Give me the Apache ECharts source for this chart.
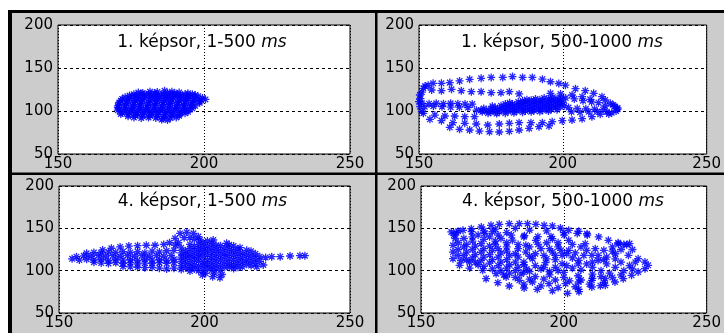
<!DOCTYPE html>
<html>
<head>
<meta charset="utf-8">
<script src="https://cdn.jsdelivr.net/npm/echarts@6/dist/echarts.min.js"></script>
<style>
  html, body { margin: 0; padding: 0; background: #fff; }
  #chart { width: 724px; height: 333px; }
</style>
</head>
<body>
<div id="chart"></div>
<script>
// tengely-feliratok
const xTicks = [150, 200, 250];
const yTicks = [50, 100, 150, 200];
const titles = ['1. képsor, 1-500 {i|ms}', '1. képsor, 500-1000 {i|ms}', '4. képsor, 1-500 {i|ms}', '4. képsor, 500-1000 {i|ms}'];

// 1. képsor, 1-500 ms
const pts1 = [
  [179,121],[181.5,122.5],[184,122],[186.5,123.5],[189,122.5],[191.5,121.5],
  [177.5,121.5],[183,121],[187.5,121],[190,120.5],[194.5,120.5],
  [176,119.5],[178.5,120],[181,120],[183.5,119],[186,120],[188.5,119.5],[191,119],[193.5,119.5],[196,119.5],
  [174.5,118],[177,118],[179.5,118.5],[182,118],[184.5,118.5],[187,118],[189.5,118.5],[192,118],[194.5,118],[197,118.5],
  [173,116],[175.5,116.5],[178,116],[180.5,117],[183,116],[185.5,116.5],[188,116],[190.5,117],[193,116],[195.5,116.5],[198,117],
  [172,114],[174.5,114.5],[177,114],[179.5,115],[182,114],[184.5,114.5],[187,114],[189.5,115],[192,114],[194.5,114.5],[197,114],[199.5,115],
  [171.5,112],[174,112.5],[176.5,112],[179,113],[181.5,112],[184,112.5],[186.5,112],[189,113],[191.5,112],[194,112.5],[196.5,112],[199,113],[200.5,113.5],
  [171,110],[173.5,110.5],[176,110],[178.5,111],[181,110],[183.5,110.5],[186,110],[188.5,111],[191,110],[193.5,110.5],[196,110],[198.5,111],
  [171,108],[173.5,108.5],[176,108],[178.5,109],[181,108],[183.5,108.5],[186,108],[188.5,109],[191,108],[193.5,108.5],[196,108],[198.5,109.5],
  [170.5,106],[173,106.5],[175.5,106],[178,107],[180.5,106],[183,106.5],[185.5,106],[188,107],[190.5,106],[193,106.5],[195.5,106.5],
  [170.5,104],[173,104.5],[175.5,104],[178,105],[180.5,104],[183,104.5],[185.5,104],[188,105],[190.5,104],[193,104.5],[195.5,104.5],[197,106],
  [171,102.5],[173.5,102],[176,102.5],[178.5,102],[181,102.5],[183.5,102],[186,102.5],[188.5,102],[191,102.5],[193.5,102.5],[196,103],
  [170.5,101],[172.5,100],[175,100.5],[177.5,100],[180,101],[182.5,100],[185,100.5],[187.5,100],[190,101],[192.5,100],[194.5,101],
  [172,98],[174.5,98.5],[177,98],[179.5,98.5],[182,98],[184.5,98.5],[187,98],[189.5,98.5],[192,98.5],[194.5,99],
  [171.5,96.5],[174,96],[176.5,96.5],[179,96],[181.5,96.5],[184,96],[186.5,96],[189,96.5],[191.5,96],[193.5,97.5],
  [174,94],[176.5,94.5],[179,94],[181.5,94.5],[184,94],[186.5,94],[189,94.5],[191.5,94.5],
  [176,92.5],[178.5,92],[181,92.5],[183.5,92],[186,91.5],[188.5,92],[190.5,92.5],
  [185.5,90],[187.5,89.5]
];

// 1. képsor, 500-1000 ms
const pts2 = [
  [152.1,129],[154.9,132.2],[157.8,132.2],[160.7,133],[164.1,135],[167.6,136.8],[171.6,138],[175.1,139],[179.1,139],[182.5,140],
  [186,139],[189.4,139],[192.9,137],[195.7,134],[198.6,132],[200.9,130],[204.4,126],[207.8,123.6],[210.7,120.5],[213.6,116.7],[214.7,112.8],
  [216.5,109],[218,105.5],[219,102],
  [150.3,118.6],[150,110.9],[150.4,105],[151,99.3],[151.5,126.4],[153.2,130],[151,122],[150.5,114.5],
  [154.4,124.4],[157.8,123.6],[161.3,125.2],[164.7,123.6],[168.2,122.5],[171.6,122.5],[175.1,121.3],[178.5,121.3],[181.4,122.5],[184.8,119.8],
  [195.7,120.5],[199.2,119.8],[203.2,118.6],[206.7,116.7],[209.5,113.6],[212.4,109.7],[214.7,105.8],
  [151,109],[153.5,108.5],[156,109],[158.5,108.5],[161,109],[163.5,108.5],[166,108],[168.5,108],
  [152,105],[155,105.5],[158,105],[161,104.5],[164,104.5],[167,104],
  [151.5,97.3],[155.5,95.3],[159,94.2],[162.4,94.2],[165.9,93.4],[169.3,93.4],
  [153.8,90.3],[157.8,88.8],[161.8,86.4],[165.9,85.7],[169.9,84.9],[173.9,83.7],[177.9,84.9],[181.4,85.7],[184.8,86.4],
  [188.9,86.4],[192.9,86.4],[196.3,87.6],[199.8,88.8],[203.2,89.5],[206.7,91.1],[210.1,93.4],[213,96.1],[215.3,99.2],
  [160.7,81],[164.1,78.7],[167.6,77.9],[171,76.7],[174.5,76],[177.9,75.6],[181.4,76.4],[184.8,77.9],[188.3,79.8],[191.7,81.8],[195.2,82.6],
  [217,98],[218.5,100],[216,96.5],[219,103.5],[217.5,107],
  [202,104],[205,103],[208,102.5],[211,102],[214,101.5],[203,99],[206,98.5],[209,99],[212,99.5],
  [201,115],[204,114],[207,112],[210,110.5],
  [170,101],[172,99],[172.5,103],[175,98.5],[175,102],[175.5,105.5],[178,99],[178,102.5],[178.5,106],
  [181,99.5],[181,103],[181,106.5],[181.5,109.5],[184,100],[184,103.5],[184,107],[184.5,110.5],
  [187,100],[187,103.5],[187,107],[187,110.5],[187.5,113],[190,100.5],[190,104],[190,107.5],[190,111],[190.5,114],
  [193,101],[193,104.5],[193,108],[193,111.5],[193.5,115],[196,102],[196,105.5],[196,109],[196,112.5],[196.5,116],
  [199,105],[199,108.5],[199,112],[199.5,115],
  [171.5,101],[173.5,100.5],[176.5,100],[179.5,101],[182.5,101.5],[185.5,102],[188.5,102],[191.5,102.5],[194.5,103.5],[197.5,104.5],
  [176.5,104],[179.5,104.5],[182.5,105],[185.5,105.5],[188.5,106],[191.5,106],[194.5,107],[197.5,107.5],
  [180,108],[182.5,108],[185.5,109],[188.5,109],[191.5,109.5],[194.5,110],[197.5,111],
  [186,112],[189,112.5],[192,113],[195,114],[198,114],[200,110],[200.5,106],
  [174,97.5],[177,97],[180,97.5],[183,98],[186,98.5],[189,99],[192,99.5],[195,100],[198,101.5]
];

// 4. képsor, 1-500 ms
const pts3 = [
  [165,124.5],[168,126.5],[171,128],[174,129],[177,129.5],[180,130],[183,130],[186,131],[188,133],
  [159.5,120.5],[162,121.5],[164.5,121],[167,122],[169.5,121.5],[172,122.5],[174.5,121.5],[177,122.5],[179.5,121],[182,123],[184.5,122],[187,123.5],[189.5,124],
  [156,116.5],[158.5,117.5],[161,117],[163.5,118],[166,117],[168.5,118],[171,117],[173.5,118],[176,117],[178.5,118],[181,117],[183.5,118],[186,117],[188.5,118],
  [154.5,114],[157,112.5],[159.5,113.5],[162,112.5],[164.5,113.5],[167,112],[169.5,113.5],[172,112.5],[174.5,113],[177,112],[179.5,113.5],[182,112.5],[184.5,113],[187,112],[189.5,113.5],
  [162,110],[164.5,109],[167,108.5],[169.5,109.5],[172,108.5],[174.5,109.5],[177,108],[179.5,109],[182,108.5],[184.5,109.5],[187,108.5],[189.5,109.5],
  [172,105],[174.5,104.5],[177,104],[179.5,103.5],[182,104],[184.5,103],[187,102],[189.5,103],
  [189.9,138.2],[191.6,144],[193.9,145.3],[196.2,144.1],[197.9,140.2],[198.4,136.2],[191,133],[193,139],[195,139],[196.5,137],[190,130],[192,127],
  [192,121],[192,116],[192,111],[192,106],[192,101.5],
  [195,131],[195,126],[195,120],[195,115],[195,109],[195,104],[195,99.5],
  [198,131],[198,126],[198,121],[198,116],[198,111],[198,105],[198,100],
  [201,135],[201,129],[201,124],[201,119],[201,113],[201,108],[201,103],[200.4,96.9],[199.3,94.9],
  [203,136.2],[204,130],[204,125],[204,119.5],[204,114],[204,108.5],[204,103],[202.8,92.9],[205.3,91.7],[203.5,97],[206,95.5],
  [207.6,132.3],[207,127],[207,121],[207,116],[207,110],[207,104.5],
  [210,129],[210,123.5],[210,118],[210,112.5],[210,107],[210,102.5],
  [212.2,127.2],[213,121],[213,115.5],[213,110],[213,104.5],
  [216,123],[216,117],[216,111.5],[216,106],
  [219,116.5],[218,104.7],[219,111],[220.2,106.7],
  [221,115.5],[223.1,116.5],[226,116.5],[229.4,117.3],[232.8,117.7],[234.5,117.7],
  [193.5,123.5],[193.5,118.5],[193.5,113.5],[193.5,108.5],[193.5,103.5],
  [196.5,128.5],[196.5,123],[196.5,117.5],[196.5,112.5],[196.5,107],[196.5,102],
  [199.5,133],[199.5,127.5],[199.5,122.5],[199.5,117],[199.5,110.5],[199.5,105.5],[199.5,100],
  [202.5,132.5],[202.5,127],[202.5,121.5],[202.5,116.5],[202.5,111],[202.5,105.5],[202.5,100.5],
  [205.5,129.5],[205.5,123.5],[205.5,118],[205.5,112.5],[205.5,106.5],[205.5,101],
  [208.5,130.5],[208.5,125],[208.5,119.5],[208.5,114],[208.5,108.5],[208.5,104],
  [211.5,125.5],[211.5,120],[211.5,114.5],[211.5,109],[211.5,104],
  [214.5,124],[214.5,118.5],[214.5,113],[214.5,107.5],
  [217.5,120],[217.5,114],[217.5,108.5]
];

// 4. képsor, 500-1000 ms
const pts4 = [
  [171.1,151.6],[174.5,153.5],[177.4,154.7],[180.9,155.5],[184.4,155.5],[187.3,155.5],[190.2,154.7],[193.1,153.5],[196,152.8],[198.8,150.4],[201.7,147.6],[205.2,146.5],[208.1,143.7],
  [160.6,145.7],[162.4,144.9],[164.7,147.6],[167.6,149.6],[161.5,142],[163,146.5],
  [212.2,139.8],[215.6,135.8],[219.1,131.9],[222,130.7],[219,133],[221,131],[223,132],
  [167.7,146],[172.3,144],[177,142],[181.6,142],[186.2,141.3],[190.9,140.2],[195.5,140.2],[200.1,142],[204.7,144],[208.2,142],
  [222.6,118.1],[226,114.2],[228.4,110.2],[229.5,106.3],[228.4,102.4],[226,98.4],[223.7,94.5],[220.8,90.6],[217.9,86.6],[214.5,82.7],
  [209.8,80.7],[205.2,78],[201.3,73.2],[196,76.4],[190.7,78],[186.1,79.5],[180.9,81.9],[176.9,85.8],[172.8,90.6],[205.3,75.2],[212.8,82.3],
  [161.2,129.9],[161.2,122],[161.2,114.2],[163.5,106.3],[167,103.1],[171.6,100.4],
  [176.3,96.5],[179.8,92.5],[184.4,88.6],[189,86.6],[194.8,84.6],[200.6,84.6],[205.2,86.6],[209.8,88.6],[214.5,90.6],
  [186.7,129.9],[190.2,135.8],[196,137.8],[201.7,135.8],[207.5,131.9],[211,126],[209.8,118.1],[205.2,112.2],[199.4,108.3],[193.6,109.4],[189,114.2],[186.7,122],
  [196,122],[199.4,118.1],[201.7,124],[193,118],[204,121],[198,128],[192,126],
  [165,138],[168,135],[171,132],[174,129],[177,126],[180,123],[183,120],
  [165,128],[168,125],[171,122],[174,119],[177,116],[180,113],[183,110],[186,107],
  [165,118],[168,115],[171,112],[174,109],[177,106],[180,103],[183,100],[186,98],
  [170,142],[174,140],[178,138],[182,136],[186,140],[180,145],[175,146],
  [167,110],[164,112],[170,107],
  [212,112],[215,108],[218,104],[221,100],[216,97],[213,100],[210,104],[208,108],[215,116],[218,120],[214,124],[217,128],[212,118],
  [195,95],[200,92],[205,94],[190,93],[185,96],[210,96],[198,100],[203,103],[192,102],
  [162,138],[163,133],[166,131],[169,129],[172,126],[175,124],[178,121],[181,118],[184,116],
  [163,125],[166,122],[169,119],[172,116],[175,113],[178,110],[181,107],[184,104],[187,102],
  [163,118],[166,113],[169,110],[172,105],[175,102],[178,100],[181,97],
  [172,137],[176,135],[180,133],[184,131],[188,128],[184,126],[180,128],[176,131],
  [168,140],[172,147],[176,149],[183,150],[188,148],[194,147],[200,145],
  [190,120],[188,117],[191,131],[194,133],[198,133],[203,131],[206,128],[208,124],[207,118],[203,115],[197,113],[194,114],[197,118],[201,120],[199,124],[195,126],[205,108],[210,110],[214,113],
  [193,104],[197,104],[201,106],[206,101],[200,98],[195,99],[188,99],[190,106],[186,110],
  [224,125],[220,125],[217,123],[225,110],[223,106],[220,110],[218,114],[224,102],[220,95],[217,92],[213,93],[210,91],[206,89],[202,88],[197,89],[193,90],[188,90],[183,92],[179,95],
  [186,84],[192,82],[198,80],[204,81],[209,84],[214,86]
];

const grids = [
  { left: 58, top: 25, width: 292, height: 129 },
  { left: 419, top: 25, width: 290, height: 129 },
  { left: 59, top: 186, width: 291, height: 127 },
  { left: 421, top: 186, width: 288, height: 127 }
];
const allPts = [pts1, pts2, pts3, pts4];

const font = 'DejaVu Sans';
const star = 'path://M-5,0L5,0M0,-5L0,5M-3.5,-3.5L3.5,3.5M-3.5,3.5L3.5,-3.5';

const chart = echarts.init(document.getElementById('chart'), null, { renderer: 'canvas' });

const option = {
  animation: false,
  backgroundColor: '#cccccc',
  title: grids.map((g, i) => ({
    text: titles[i],
    left: g.left + g.width / 2 - 2,
    top: i < 2 ? 43 : 202,
    padding: 0,
    textAlign: 'center',
    textVerticalAlign: 'middle',
    textStyle: {
      fontFamily: font, fontSize: 17, fontWeight: 'normal', color: '#000',
      rich: { i: { fontFamily: font, fontSize: 17, fontStyle: 'italic', color: '#000' } }
    }
  })),
  grid: grids.map(g => Object.assign({
    show: true, backgroundColor: '#fff', borderColor: '#000', borderWidth: 1, containLabel: false
  }, g)),
  xAxis: grids.map((g, i) => ({
    type: 'value', gridIndex: i, min: xTicks[0], max: xTicks[xTicks.length - 1], interval: 50,
    axisLine: { show: false },
    axisTick: { show: false },
    axisLabel: { color: '#000', fontSize: 15, fontFamily: font, margin: 3 },
    splitLine: { show: true, lineStyle: { color: '#000', type: [1, 2], width: 1 } }
  })),
  yAxis: grids.map((g, i) => ({
    type: 'value', gridIndex: i, min: yTicks[0], max: yTicks[yTicks.length - 1], interval: 50,
    axisLine: { show: false },
    axisTick: { show: false },
    axisLabel: { color: '#000', fontSize: 15, fontFamily: font, margin: 5 },
    splitLine: { show: true, lineStyle: { color: '#000', type: [3, 3], width: 1 } }
  })),
  series: allPts.map((pts, i) => ({
    type: 'scatter', xAxisIndex: i, yAxisIndex: i,
    data: pts,
    symbol: star, symbolSize: 8,
    itemStyle: { color: 'rgba(0,0,0,0)', borderColor: '#0000ff', borderWidth: 1.3, opacity: 0.85 }
  })),
  graphic: [
    { type: 'rect', shape: { x: 0, y: 0, width: 724, height: 10 }, style: { fill: '#fff' } },
    { type: 'rect', shape: { x: 0, y: 0, width: 8, height: 333 }, style: { fill: '#fff' } },
    { type: 'rect', shape: { x: 8, y: 10, width: 716, height: 3 }, style: { fill: '#000' } },
    { type: 'rect', shape: { x: 8, y: 10, width: 4, height: 323 }, style: { fill: '#000' } },
    { type: 'rect', shape: { x: 375, y: 10, width: 2.5, height: 323 }, style: { fill: '#000' } },
    { type: 'rect', shape: { x: 8, y: 172.5, width: 716, height: 2.5 }, style: { fill: '#000' } }
  ]
};

chart.setOption(option);
</script>
</body>
</html>
